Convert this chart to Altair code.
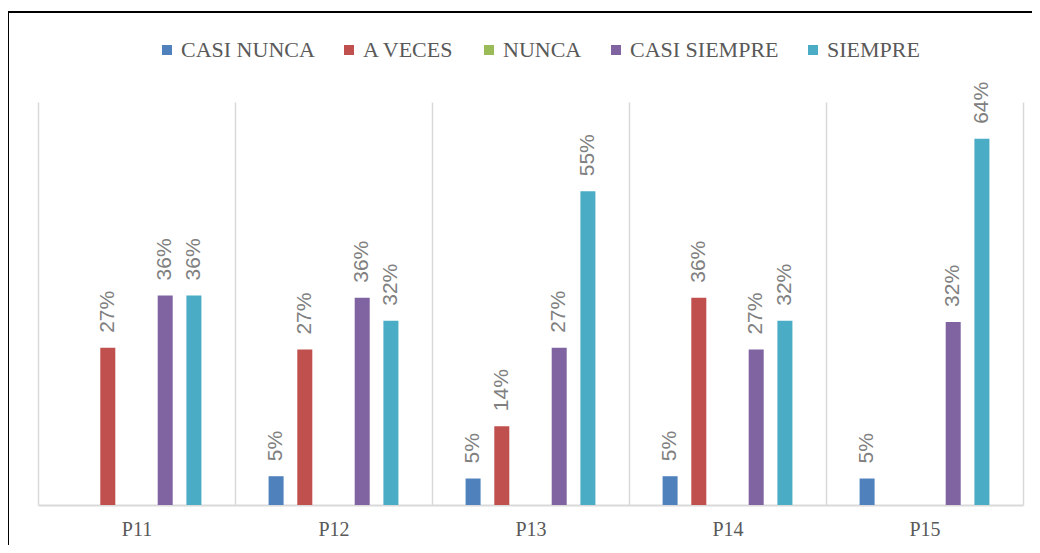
import altair as alt
import pandas as pd

preguntas = ["P11", "P12", "P13", "P14", "P15"]
series = ["CASI NUNCA", "A VECES", "NUNCA", "CASI SIEMPRE", "SIEMPRE"]
colores = ["#4F81BD", "#C0504D", "#9BBB59", "#8064A2", "#4BACC6"]

casi_nunca = [0.0, 0.05, 0.046, 0.05, 0.046]
a_veces = [0.273, 0.27, 0.137, 0.36, 0.0]
nunca = [0.0, 0.0, 0.0, 0.0, 0.0]
casi_siempre = [0.364, 0.36, 0.273, 0.27, 0.318]
siempre = [0.364, 0.32, 0.545, 0.32, 0.636]

valores = [casi_nunca, a_veces, nunca, casi_siempre, siempre]
rows = []
for s, vals in zip(series, valores):
    for p, v in zip(preguntas, vals):
        rows.append({"pregunta": p, "serie": s, "valor": v})
df = pd.DataFrame(rows)

# offset domain with empty slots at each end to leave room inside each group
offset_domain = ["_ini"] + series + ["_fin"]

x_enc = alt.X("pregunta:N", sort=preguntas, title=None,
              scale=alt.Scale(paddingInner=0, paddingOuter=0),
              axis=alt.Axis(labelAngle=0, ticks=False, grid=True, tickBand="extent",
                            gridColor="#d9d9d9", gridWidth=1.5,
                            domainColor="#d9d9d9", domainWidth=2,
                            labelFont="Liberation Serif", labelFontSize=20,
                            labelColor="#595959", labelPadding=14))
xoff_enc = alt.XOffset("serie:N",
                       scale=alt.Scale(domain=offset_domain, paddingInner=0.477, paddingOuter=0.17))
y_enc = alt.Y("valor:Q", scale=alt.Scale(domain=[0, 0.7]), axis=None)

base = alt.Chart(df)

bars = base.mark_bar().encode(
    x=x_enc,
    xOffset=xoff_enc,
    y=y_enc,
    color=alt.Color("serie:N", sort=series,
                    scale=alt.Scale(domain=series, range=colores),
                    legend=alt.Legend(orient="none", legendX=118, legendY=-63,
                                      direction="horizontal", columns=5,
                                      symbolType="square", symbolSize=100,
                                      symbolStrokeWidth=0,
                                      labelFont="Liberation Serif", labelFontSize=22,
                                      labelColor="#595959", columnPadding=23,
                                      labelOffset=3, labelLimit=400, title=None)),
)

labels = base.transform_filter("datum.valor > 0").mark_text(
    angle=270, align="left", baseline="middle", dx=15,
    font="Liberation Sans", fontSize=21, color="#808080"
).encode(
    x=x_enc,
    xOffset=xoff_enc,
    y=y_enc,
    text=alt.Text("valor:Q", format=".0%"),
)

frame_df = pd.DataFrame({"k": [0]})
left_line = alt.Chart(frame_df).mark_rule(color="black", strokeWidth=2).encode(
    x=alt.value(-30), y=alt.value(-90), y2=alt.value(700))
top_line = alt.Chart(frame_df).mark_rule(color="black", strokeWidth=2).encode(
    x=alt.value(-30), x2=alt.value(1200), y=alt.value(-90))

chart = alt.layer(bars, labels, left_line, top_line).properties(
    width=985, height=403,
    padding={"left": 30, "top": 94, "right": 9, "bottom": 40},
    autosize=alt.AutoSizeParams(type="none"),
).configure_view(stroke=None)

chart.save("out.html", embed_options={"renderer": "svg", "actions": False})
